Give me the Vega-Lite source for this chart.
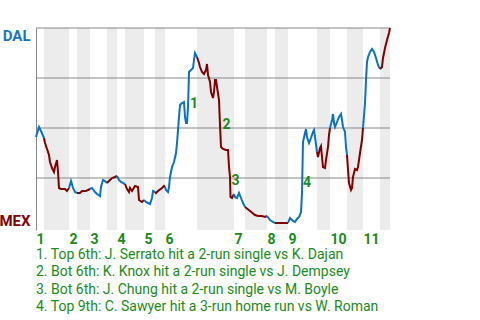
{
  "$schema": "https://vega.github.io/schema/vega-lite/v6.json",
  "width": 354,
  "height": 202,
  "autosize": {"type": "none"},
  "padding": {"left": 36, "top": 28, "right": 90, "bottom": 90},
  "background": "white",
  "config": {
    "view": {"stroke": null},
    "font": "Roboto",
    "axisX": {
      "labelExpr": "'' + (indexof([0, 33, 54, 81, 108, 129, 198, 231, 252, 294, 327], datum.value) + 1)",
      "labelAlign": "left", "labelBaseline": "top",
      "labelColor": "#1a8a1a", "labelFont": "Roboto", "labelFontWeight": "bold", "labelFontSize": 14,
      "ticks": false, "domain": false, "grid": false, "labelPadding": 2,
      "labelFlush": false, "labelOverlap": false, "title": null
    },
    "axisY": {
      "labelExpr": "datum.value == 100 ? 'DAL' : 'MEX'",
      "grid": false, "ticks": false, "domainColor": "#888888", "domainWidth": 1,
      "labelFont": "Roboto", "labelFontSize": 15, "labelFontWeight": "bold", "labelPadding": 6,
      "labelColor": {"condition": {"test": "datum.value == 100", "value": "#1a75c0"}, "value": "#800000"},
      "labelBaseline": {"condition": {"test": "datum.value == 100", "value": "top"}, "value": "bottom"},
      "title": null
    }
  },
  "title": {
    "text": [
      "1. Top 6th: J. Serrato hit a 2-run single vs K. Dajan",
      "2. Bot 6th: K. Knox hit a 2-run single vs J. Dempsey",
      "3. Bot 6th: J. Chung hit a 2-run single vs M. Boyle",
      "4. Top 9th: C. Sawyer hit a 3-run home run vs W. Roman"
    ],
    "orient": "bottom",
    "anchor": "start",
    "frame": "group",
    "color": "#1a8a1a",
    "font": "Roboto",
    "fontSize": 14,
    "fontWeight": "normal",
    "lineHeight": 17.3,
    "offset": 2
  },
  "datasets": {
    "bands": [
      {"x": 8, "x2": 33}, {"x": 41, "x2": 54}, {"x": 71, "x2": 81}, {"x": 89, "x2": 108},
      {"x": 119, "x2": 129}, {"x": 161, "x2": 198}, {"x": 209, "x2": 231}, {"x": 239, "x2": 252},
      {"x": 281, "x2": 294}, {"x": 311, "x2": 327}, {"x": 344, "x2": 354}
    ],
    "grid": [{"p": 25}, {"p": 50}, {"p": 75}, {"p": 100}],
    "notes": [
      {"x": 154, "p": 62, "t": "1"},
      {"x": 186.5, "p": 51.5, "t": "2"},
      {"x": 195.5, "p": 23.5, "t": "3"},
      {"x": 267, "p": 22.5, "t": "4"}
    ],
    "wp": [
      {"s": "T1", "h": "T", "x": 0, "p": 45.5}, {"s": "T1", "h": "T", "x": 3, "p": 50.5}, {"s": "T1", "h": "T", "x": 5, "p": 48.5}, {"s": "T1", "h": "T", "x": 8, "p": 45},
      {"s": "B1", "h": "B", "x": 8, "p": 45}, {"s": "B1", "h": "B", "x": 9, "p": 42.5}, {"s": "B1", "h": "B", "x": 11, "p": 39.5}, {"s": "B1", "h": "B", "x": 13, "p": 36.5}, {"s": "B1", "h": "B", "x": 14, "p": 33}, {"s": "B1", "h": "B", "x": 16, "p": 30}, {"s": "B1", "h": "B", "x": 18, "p": 28}, {"s": "B1", "h": "B", "x": 19, "p": 30.5}, {"s": "B1", "h": "B", "x": 21, "p": 34}, {"s": "B1", "h": "B", "x": 22, "p": 28}, {"s": "B1", "h": "B", "x": 23, "p": 20}, {"s": "B1", "h": "B", "x": 25, "p": 19.5}, {"s": "B1", "h": "B", "x": 29, "p": 19.5}, {"s": "B1", "h": "B", "x": 31, "p": 18.5}, {"s": "B1", "h": "B", "x": 33, "p": 20},
      {"s": "T2", "h": "T", "x": 33, "p": 20}, {"s": "T2", "h": "T", "x": 35, "p": 23.5}, {"s": "T2", "h": "T", "x": 37, "p": 20}, {"s": "T2", "h": "T", "x": 39, "p": 18}, {"s": "T2", "h": "T", "x": 41, "p": 17.5},
      {"s": "B2", "h": "B", "x": 41, "p": 17.5}, {"s": "B2", "h": "B", "x": 44, "p": 17.5}, {"s": "B2", "h": "B", "x": 46, "p": 18.5}, {"s": "B2", "h": "B", "x": 50, "p": 18.5}, {"s": "B2", "h": "B", "x": 52, "p": 19}, {"s": "B2", "h": "B", "x": 54, "p": 19.5},
      {"s": "T3", "h": "T", "x": 54, "p": 19.5}, {"s": "T3", "h": "T", "x": 56, "p": 20}, {"s": "T3", "h": "T", "x": 59, "p": 18}, {"s": "T3", "h": "T", "x": 61, "p": 17}, {"s": "T3", "h": "T", "x": 64, "p": 16}, {"s": "T3", "h": "T", "x": 65, "p": 20.5}, {"s": "T3", "h": "T", "x": 67, "p": 24}, {"s": "T3", "h": "T", "x": 69, "p": 23.5}, {"s": "T3", "h": "T", "x": 71, "p": 22.5},
      {"s": "B3", "h": "B", "x": 71, "p": 22.5}, {"s": "B3", "h": "B", "x": 73, "p": 23.5}, {"s": "B3", "h": "B", "x": 76, "p": 25}, {"s": "B3", "h": "B", "x": 79, "p": 25.5}, {"s": "B3", "h": "B", "x": 81, "p": 26},
      {"s": "T4", "h": "T", "x": 81, "p": 26}, {"s": "T4", "h": "T", "x": 83, "p": 24}, {"s": "T4", "h": "T", "x": 85, "p": 23}, {"s": "T4", "h": "T", "x": 89, "p": 22},
      {"s": "B4", "h": "B", "x": 89, "p": 22}, {"s": "B4", "h": "B", "x": 91, "p": 19.5}, {"s": "B4", "h": "B", "x": 93, "p": 18}, {"s": "B4", "h": "B", "x": 94, "p": 20}, {"s": "B4", "h": "B", "x": 96, "p": 18.5}, {"s": "B4", "h": "B", "x": 99, "p": 21}, {"s": "B4", "h": "B", "x": 102, "p": 20.5}, {"s": "B4", "h": "B", "x": 103, "p": 14}, {"s": "B4", "h": "B", "x": 106, "p": 13}, {"s": "B4", "h": "B", "x": 108, "p": 14},
      {"s": "T5", "h": "T", "x": 108, "p": 14}, {"s": "T5", "h": "T", "x": 110, "p": 13}, {"s": "T5", "h": "T", "x": 112, "p": 12.5}, {"s": "T5", "h": "T", "x": 114, "p": 12}, {"s": "T5", "h": "T", "x": 116, "p": 15}, {"s": "T5", "h": "T", "x": 117, "p": 18.5}, {"s": "T5", "h": "T", "x": 119, "p": 18},
      {"s": "B5", "h": "B", "x": 119, "p": 18}, {"s": "B5", "h": "B", "x": 120, "p": 17.5}, {"s": "B5", "h": "B", "x": 122, "p": 18.5}, {"s": "B5", "h": "B", "x": 126, "p": 20}, {"s": "B5", "h": "B", "x": 128, "p": 21}, {"s": "B5", "h": "B", "x": 129, "p": 20.5},
      {"s": "T6", "h": "T", "x": 129, "p": 20.5}, {"s": "T6", "h": "T", "x": 130, "p": 19}, {"s": "T6", "h": "T", "x": 132, "p": 18}, {"s": "T6", "h": "T", "x": 133, "p": 20.5}, {"s": "T6", "h": "T", "x": 134, "p": 25.5}, {"s": "T6", "h": "T", "x": 136, "p": 30.5}, {"s": "T6", "h": "T", "x": 138, "p": 33}, {"s": "T6", "h": "T", "x": 140, "p": 37.5}, {"s": "T6", "h": "T", "x": 141, "p": 42.5}, {"s": "T6", "h": "T", "x": 142, "p": 49}, {"s": "T6", "h": "T", "x": 143, "p": 55.5}, {"s": "T6", "h": "T", "x": 144, "p": 61.5}, {"s": "T6", "h": "T", "x": 146, "p": 62.5}, {"s": "T6", "h": "T", "x": 148, "p": 63}, {"s": "T6", "h": "T", "x": 149, "p": 55.5}, {"s": "T6", "h": "T", "x": 150, "p": 52.5}, {"s": "T6", "h": "T", "x": 151, "p": 52.5}, {"s": "T6", "h": "T", "x": 152, "p": 60.5}, {"s": "T6", "h": "T", "x": 152.5, "p": 69}, {"s": "T6", "h": "T", "x": 153, "p": 78}, {"s": "T6", "h": "T", "x": 155, "p": 79}, {"s": "T6", "h": "T", "x": 157, "p": 80}, {"s": "T6", "h": "T", "x": 158, "p": 84}, {"s": "T6", "h": "T", "x": 159, "p": 87.5}, {"s": "T6", "h": "T", "x": 161, "p": 85.5},
      {"s": "B6", "h": "B", "x": 161, "p": 85.5}, {"s": "B6", "h": "B", "x": 163, "p": 82.5}, {"s": "B6", "h": "B", "x": 164, "p": 80.5}, {"s": "B6", "h": "B", "x": 166, "p": 78}, {"s": "B6", "h": "B", "x": 168, "p": 77}, {"s": "B6", "h": "B", "x": 170, "p": 79}, {"s": "B6", "h": "B", "x": 171, "p": 82}, {"s": "B6", "h": "B", "x": 172, "p": 76.5}, {"s": "B6", "h": "B", "x": 174, "p": 73}, {"s": "B6", "h": "B", "x": 175, "p": 68}, {"s": "B6", "h": "B", "x": 177, "p": 65}, {"s": "B6", "h": "B", "x": 178, "p": 68}, {"s": "B6", "h": "B", "x": 179, "p": 74}, {"s": "B6", "h": "B", "x": 180, "p": 74}, {"s": "B6", "h": "B", "x": 181, "p": 70.5}, {"s": "B6", "h": "B", "x": 183, "p": 64}, {"s": "B6", "h": "B", "x": 184, "p": 51.5}, {"s": "B6", "h": "B", "x": 185, "p": 40.5}, {"s": "B6", "h": "B", "x": 187, "p": 39.5}, {"s": "B6", "h": "B", "x": 190, "p": 39}, {"s": "B6", "h": "B", "x": 192, "p": 39}, {"s": "B6", "h": "B", "x": 193, "p": 30.5}, {"s": "B6", "h": "B", "x": 194, "p": 25.5}, {"s": "B6", "h": "B", "x": 194.5, "p": 15.5}, {"s": "B6", "h": "B", "x": 196, "p": 15}, {"s": "B6", "h": "B", "x": 198, "p": 17},
      {"s": "T7", "h": "T", "x": 198, "p": 17}, {"s": "T7", "h": "T", "x": 199, "p": 15.5}, {"s": "T7", "h": "T", "x": 201, "p": 15}, {"s": "T7", "h": "T", "x": 203, "p": 17.5}, {"s": "T7", "h": "T", "x": 205, "p": 15}, {"s": "T7", "h": "T", "x": 207, "p": 12.5}, {"s": "T7", "h": "T", "x": 209, "p": 10.5},
      {"s": "B7", "h": "B", "x": 209, "p": 10.5}, {"s": "B7", "h": "B", "x": 214, "p": 8.5}, {"s": "B7", "h": "B", "x": 219, "p": 6.5}, {"s": "B7", "h": "B", "x": 222, "p": 6}, {"s": "B7", "h": "B", "x": 226, "p": 6}, {"s": "B7", "h": "B", "x": 229, "p": 5.5}, {"s": "B7", "h": "B", "x": 231, "p": 6},
      {"s": "T8", "h": "T", "x": 231, "p": 6}, {"s": "T8", "h": "T", "x": 234, "p": 4}, {"s": "T8", "h": "T", "x": 237, "p": 3}, {"s": "T8", "h": "T", "x": 239, "p": 2.5},
      {"s": "B8", "h": "B", "x": 239, "p": 2.5}, {"s": "B8", "h": "B", "x": 251, "p": 2.5}, {"s": "B8", "h": "B", "x": 252, "p": 2.5},
      {"s": "T9", "h": "T", "x": 252, "p": 2.5}, {"s": "T9", "h": "T", "x": 254, "p": 5}, {"s": "T9", "h": "T", "x": 257, "p": 3.5}, {"s": "T9", "h": "T", "x": 259, "p": 3}, {"s": "T9", "h": "T", "x": 261, "p": 4.5}, {"s": "T9", "h": "T", "x": 263, "p": 5.5}, {"s": "T9", "h": "T", "x": 265, "p": 8}, {"s": "T9", "h": "T", "x": 266, "p": 17.5}, {"s": "T9", "h": "T", "x": 266.5, "p": 30.5}, {"s": "T9", "h": "T", "x": 267, "p": 43}, {"s": "T9", "h": "T", "x": 269, "p": 47.5}, {"s": "T9", "h": "T", "x": 270, "p": 49.5}, {"s": "T9", "h": "T", "x": 271, "p": 45.5}, {"s": "T9", "h": "T", "x": 273, "p": 42.5}, {"s": "T9", "h": "T", "x": 275, "p": 45}, {"s": "T9", "h": "T", "x": 277, "p": 48}, {"s": "T9", "h": "T", "x": 278, "p": 49}, {"s": "T9", "h": "T", "x": 279, "p": 45.5}, {"s": "T9", "h": "T", "x": 281, "p": 38},
      {"s": "B9", "h": "B", "x": 281, "p": 38}, {"s": "B9", "h": "B", "x": 282, "p": 35.5}, {"s": "B9", "h": "B", "x": 284, "p": 40}, {"s": "B9", "h": "B", "x": 285, "p": 41}, {"s": "B9", "h": "B", "x": 286, "p": 35.5}, {"s": "B9", "h": "B", "x": 287, "p": 30.5}, {"s": "B9", "h": "B", "x": 289, "p": 30}, {"s": "B9", "h": "B", "x": 290, "p": 34}, {"s": "B9", "h": "B", "x": 292, "p": 40.5}, {"s": "B9", "h": "B", "x": 293, "p": 46.5}, {"s": "B9", "h": "B", "x": 294, "p": 50},
      {"s": "T10", "h": "T", "x": 294, "p": 50}, {"s": "T10", "h": "T", "x": 296, "p": 54}, {"s": "T10", "h": "T", "x": 297, "p": 57}, {"s": "T10", "h": "T", "x": 298, "p": 52.5}, {"s": "T10", "h": "T", "x": 299, "p": 50.5}, {"s": "T10", "h": "T", "x": 301, "p": 53}, {"s": "T10", "h": "T", "x": 303, "p": 55.5}, {"s": "T10", "h": "T", "x": 305, "p": 57}, {"s": "T10", "h": "T", "x": 306, "p": 54}, {"s": "T10", "h": "T", "x": 307, "p": 50.5}, {"s": "T10", "h": "T", "x": 309, "p": 48}, {"s": "T10", "h": "T", "x": 310, "p": 40.5}, {"s": "T10", "h": "T", "x": 311, "p": 36.5},
      {"s": "B10", "h": "B", "x": 311, "p": 36.5}, {"s": "B10", "h": "B", "x": 312, "p": 29}, {"s": "B10", "h": "B", "x": 313, "p": 22.5}, {"s": "B10", "h": "B", "x": 315, "p": 19}, {"s": "B10", "h": "B", "x": 316, "p": 20}, {"s": "B10", "h": "B", "x": 317, "p": 25.5}, {"s": "B10", "h": "B", "x": 319, "p": 29.5}, {"s": "B10", "h": "B", "x": 321, "p": 29}, {"s": "B10", "h": "B", "x": 322, "p": 30.5}, {"s": "B10", "h": "B", "x": 324, "p": 37.5}, {"s": "B10", "h": "B", "x": 326, "p": 44}, {"s": "B10", "h": "B", "x": 327, "p": 50},
      {"s": "T11", "h": "T", "x": 327, "p": 50}, {"s": "T11", "h": "T", "x": 329, "p": 62.5}, {"s": "T11", "h": "T", "x": 330, "p": 74}, {"s": "T11", "h": "T", "x": 331, "p": 83}, {"s": "T11", "h": "T", "x": 332, "p": 85.5}, {"s": "T11", "h": "T", "x": 334, "p": 88}, {"s": "T11", "h": "T", "x": 336, "p": 89.5}, {"s": "T11", "h": "T", "x": 338, "p": 88}, {"s": "T11", "h": "T", "x": 340, "p": 85}, {"s": "T11", "h": "T", "x": 342, "p": 81.5}, {"s": "T11", "h": "T", "x": 344, "p": 79.5},
      {"s": "B11", "h": "B", "x": 344, "p": 79.5}, {"s": "B11", "h": "B", "x": 346, "p": 80.5}, {"s": "B11", "h": "B", "x": 347, "p": 85}, {"s": "B11", "h": "B", "x": 349, "p": 90}, {"s": "B11", "h": "B", "x": 351, "p": 94}, {"s": "B11", "h": "B", "x": 353, "p": 97.5}, {"s": "B11", "h": "B", "x": 354, "p": 100}
    ]
  },
  "layer": [
    {
      "data": {"name": "bands"},
      "mark": {"type": "rect", "color": "#ececec"},
      "encoding": {
        "x": {"field": "x", "type": "quantitative", "scale": {"domain": [0, 354], "nice": false, "zero": false}, "axis": {"values": [0, 33, 54, 81, 108, 129, 198, 231, 252, 294, 327]}},
        "x2": {"field": "x2"}
      }
    },
    {
      "data": {"name": "grid"},
      "mark": {"type": "rule", "color": "#888888", "strokeWidth": 1},
      "encoding": {
        "y": {"field": "p", "type": "quantitative", "scale": {"domain": [-1, 100], "nice": false, "zero": false}, "axis": {"values": [0, 100]}}
      }
    },
    {
      "data": {"name": "wp"},
      "mark": {"type": "line", "strokeWidth": 2, "interpolate": "linear"},
      "encoding": {
        "x": {"field": "x", "type": "quantitative", "scale": {"domain": [0, 354], "nice": false, "zero": false}, "axis": {"values": [0, 33, 54, 81, 108, 129, 198, 231, 252, 294, 327]}},
        "y": {"field": "p", "type": "quantitative", "scale": {"domain": [-1, 100], "nice": false, "zero": false}, "axis": {"values": [0, 100]}},
        "color": {"field": "h", "type": "nominal", "scale": {"domain": ["T", "B"], "range": ["#0a72c2", "#800000"]}, "legend": null},
        "detail": {"field": "s"},
        "order": {"field": "x", "type": "quantitative"}
      }
    },
    {
      "data": {"name": "notes"},
      "mark": {"type": "text", "align": "left", "baseline": "middle", "font": "Roboto", "fontWeight": "bold", "fontSize": 14, "color": "#1a8a1a"},
      "encoding": {
        "x": {"field": "x", "type": "quantitative", "scale": {"domain": [0, 354], "nice": false, "zero": false}, "axis": {"values": [0, 33, 54, 81, 108, 129, 198, 231, 252, 294, 327]}},
        "y": {"field": "p", "type": "quantitative", "scale": {"domain": [-1, 100], "nice": false, "zero": false}, "axis": {"values": [0, 100]}},
        "text": {"field": "t"}
      }
    }
  ]
}
